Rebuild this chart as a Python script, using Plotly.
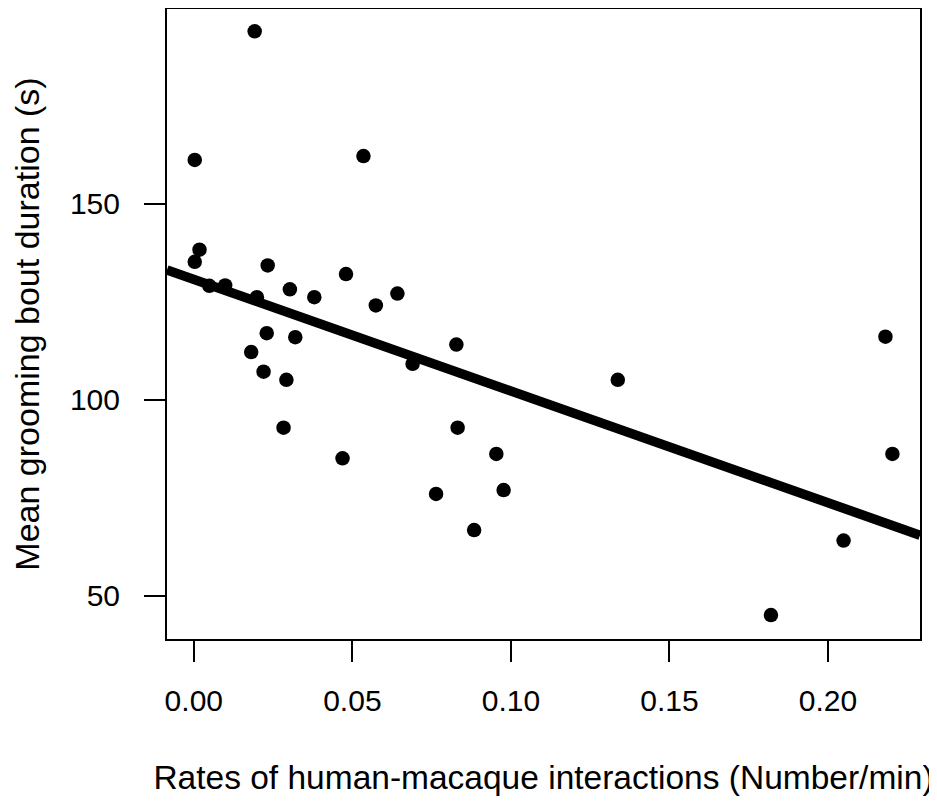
import plotly.graph_objects as go

# Data
rate = [0.0192, 0.0003, 0.0535, 0.0018, 0.0003, 0.0233, 0.0049, 0.0099, 0.0199,
        0.0303, 0.0380, 0.0480, 0.0574, 0.0642, 0.0230, 0.0320, 0.0181, 0.0220,
        0.0292, 0.0283, 0.0469, 0.0828, 0.0690, 0.0832, 0.0954, 0.0764, 0.0977,
        0.0884, 0.2181, 0.1337, 0.2203, 0.2049, 0.1820]
duration = [194.0, 161.2, 162.2, 138.3, 135.2, 134.3, 129.1, 129.2, 126.2,
            128.2, 126.2, 132.1, 124.1, 127.1, 117.0, 116.0, 112.2, 107.2,
            105.1, 92.9, 85.1, 114.1, 109.2, 92.9, 86.2, 76.0, 77.0,
            66.8, 116.1, 105.1, 86.2, 64.1, 45.1]

# Fitted regression line
fit_intercept = 130.75
fit_slope = -285.0

x_range = [-0.00845, 0.229]
y_range = [39.0, 199.7]

x_tickvals = [0.00, 0.05, 0.10, 0.15, 0.20]
x_ticktext = ["0.00", "0.05", "0.10", "0.15", "0.20"]
y_tickvals = [50, 100, 150]
y_ticktext = ["50", "100", "150"]

x_title = "Rates of human-macaque interactions (Number/min)"
y_title = "Mean grooming bout duration (s)"

FONT = "Liberation Sans, Arial, sans-serif"

fig = go.Figure()

line_x = x_range
line_y = [fit_intercept + fit_slope * v for v in line_x]
fig.add_trace(go.Scatter(x=line_x, y=line_y, mode="lines",
                         line=dict(color="black", width=9.5),
                         showlegend=False, hoverinfo="skip"))

fig.add_trace(go.Scatter(x=rate, y=duration, mode="markers",
                         marker=dict(color="black", size=14.5, line=dict(width=0)),
                         showlegend=False))

# the page body has an 8px margin, so the figure is 8px smaller on each axis
fig.update_layout(
    width=929, height=794,
    margin=dict(l=159, r=17, t=1, b=163),
    paper_bgcolor="white", plot_bgcolor="white",
    font=dict(family=FONT, color="black", size=29),
)

fig.update_xaxes(
    range=x_range, tickvals=x_tickvals, ticktext=x_ticktext,
    showgrid=False, zeroline=False,
    showline=True, mirror=True, linecolor="black", linewidth=2,
    ticks="outside", ticklen=21, tickwidth=1.5, tickcolor="black",
    tickfont=dict(family=FONT, size=30, color="black"),
    ticklabelstandoff=13,
    title=dict(text=x_title, font=dict(family=FONT, size=33.5, color="black"), standoff=50),
    automargin=False,
)
fig.update_yaxes(
    range=y_range, tickvals=y_tickvals, ticktext=y_ticktext,
    showgrid=False, zeroline=False,
    showline=True, mirror=True, linecolor="black", linewidth=2,
    ticks="outside", ticklen=21, tickwidth=1.5, tickcolor="black",
    tickfont=dict(family=FONT, size=30, color="black"),
    ticklabelstandoff=18,
    title=dict(text=y_title, font=dict(family=FONT, size=34, color="black"), standoff=40),
    automargin=False,
)

fig.write_html("out.html")
